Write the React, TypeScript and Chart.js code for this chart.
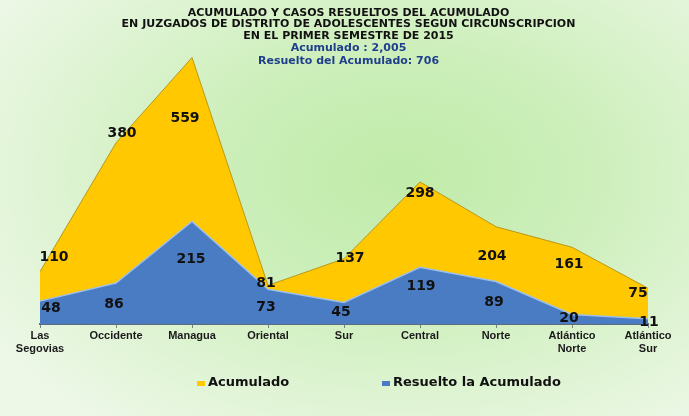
import { useEffect, useRef } from "react";
import { Chart, registerables } from "chart.js";

Chart.register(...registerables);

const categories: (string | string[])[] = [
  ["Las", "Segovias"],
  "Occidente",
  "Managua",
  "Oriental",
  "Sur",
  "Central",
  "Norte",
  ["Atlántico", "Norte"],
  ["Atlántico", "Sur"],
];
const acumulado = [110, 380, 559, 81, 137, 298, 204, 161, 75];
const resuelto = [48, 86, 215, 73, 45, 119, 89, 20, 11];
const seriesNames = ["Acumulado", "Resuelto la Acumulado"];
const titleLines = [
  "ACUMULADO Y CASOS RESUELTOS DEL ACUMULADO",
  "EN JUZGADOS DE DISTRITO DE ADOLESCENTES SEGUN CIRCUNSCRIPCION",
  "EN EL PRIMER SEMESTRE DE 2015",
];
const subtitleLines = ["Acumulado : 2,005", "Resuelto del Acumulado: 706"];

// label nudges (px) relative to each point, as placed in the original
const acumLabelOffset = [[14, -14], [6, -10], [-7, 61], [-2, -2], [6, 0], [0, 11], [-4, 30], [-3, 17], [-10, 5]];
const resLabelOffset = [[11, 7], [-2, 21], [-1, 38], [-2, 18], [-3, 10], [1, 19], [-2, 21], [-3, 4], [1, 4]];

const YELLOW = "#ffc800";
const BLUE = "#4a7cc4";

const valueLabels = {
  id: "valueLabels",
  afterDatasetsDraw(chart: any) {
    const ctx = chart.ctx;
    ctx.save();
    ctx.font = 'bold 14px "DejaVu Sans"';
    ctx.fillStyle = "#111";
    ctx.textAlign = "center";
    ctx.textBaseline = "middle";
    chart.data.datasets.forEach((ds: any, di: number) => {
      const meta = chart.getDatasetMeta(di);
      const offs = ds.labelOffsets as number[][];
      meta.data.forEach((pt: any, i: number) => {
        ctx.fillText(String(ds.data[i]), pt.x + offs[i][0], pt.y + offs[i][1]);
      });
    });
    ctx.restore();
  },
};

const titles = {
  id: "titles",
  afterDraw(chart: any) {
    const ctx = chart.ctx;
    const cx = chart.width / 2 + 4;
    ctx.save();
    ctx.textAlign = "center";
    ctx.textBaseline = "middle";
    ctx.font = 'bold 11px "DejaVu Sans"';
    ctx.fillStyle = "#111";
    titleLines.forEach((t, i) => ctx.fillText(t, cx, 13 + i * 11.5));
    ctx.font = 'bold 11px "DejaVu Sans"';
    ctx.fillStyle = "#1f3f8c";
    subtitleLines.forEach((t, i) => ctx.fillText(t, cx, 48 + i * 13));
    ctx.restore();
  },
};

const legendPlugin = {
  id: "customLegend",
  afterDraw(chart: any) {
    const ctx = chart.ctx;
    const colors = [YELLOW, BLUE];
    const starts = [197, 382];
    const y = 383;
    ctx.save();
    ctx.font = 'bold 13px "DejaVu Sans"';
    ctx.textBaseline = "middle";
    ctx.textAlign = "left";
    seriesNames.forEach((name, i) => {
      ctx.fillStyle = colors[i];
      ctx.fillRect(starts[i], y - 2, 8, 5);
      ctx.fillStyle = "#111";
      ctx.fillText(name, starts[i] + 11, y);
    });
    ctx.restore();
  },
};

export default function App() {
  const ref = useRef<HTMLCanvasElement>(null);
  useEffect(() => {
    document.body.style.margin = "0";
    const chart = new Chart(ref.current!, {
      type: "line",
      data: {
        labels: categories,
        datasets: [
          {
            label: seriesNames[0],
            data: acumulado,
            backgroundColor: YELLOW,
            borderColor: "#b8981a",
            borderWidth: 1,
            fill: "origin",
            pointRadius: 0,
            tension: 0,
            order: 2,
            labelOffsets: acumLabelOffset,
          } as any,
          {
            label: seriesNames[1],
            data: resuelto,
            backgroundColor: BLUE,
            borderColor: "#9cc0ea",
            borderWidth: 1.5,
            fill: "origin",
            pointRadius: 0,
            tension: 0,
            order: 1,
            labelOffsets: resLabelOffset,
          } as any,
        ],
      },
      options: {
        animation: false,
        responsive: false,
        maintainAspectRatio: false,
        layout: { padding: { top: 38, left: 40, right: 41, bottom: 52 } },
        plugins: {
          legend: { display: false },
          title: { display: false },
          tooltip: { enabled: false },
        },
        scales: {
          x: {
            offset: false,
            grid: { drawOnChartArea: false, drawTicks: true, tickLength: 4, color: "#7a857a" },
            border: { display: true, color: "#5f6b78", width: 2 },
            ticks: {
              padding: 2,
              maxRotation: 0,
              autoSkip: false,
              color: "#1a1a1a",
              font: { family: '"Liberation Sans"', weight: "bold", size: 11, lineHeight: 1.15 },
            },
            afterFit: (scale: any) => {
              scale.height = 40;
            },
          },
          y: { display: false, min: 0, max: 600 },
        },
      },
      plugins: [valueLabels, titles, legendPlugin],
    });
    return () => chart.destroy();
  }, []);
  return (
    <div
      style={{
        position: "fixed",
        left: 0,
        top: 0,
        width: 689,
        height: 416,
        background:
          "radial-gradient(ellipse 70% 75% at 58% 42%, #c0eba9 0%, #cdefbb 40%, #e0f4d5 75%, #edf8e7 100%)",
      }}
    >
      <canvas ref={ref} width={689} height={416} style={{ display: "block" }} />
    </div>
  );
}
